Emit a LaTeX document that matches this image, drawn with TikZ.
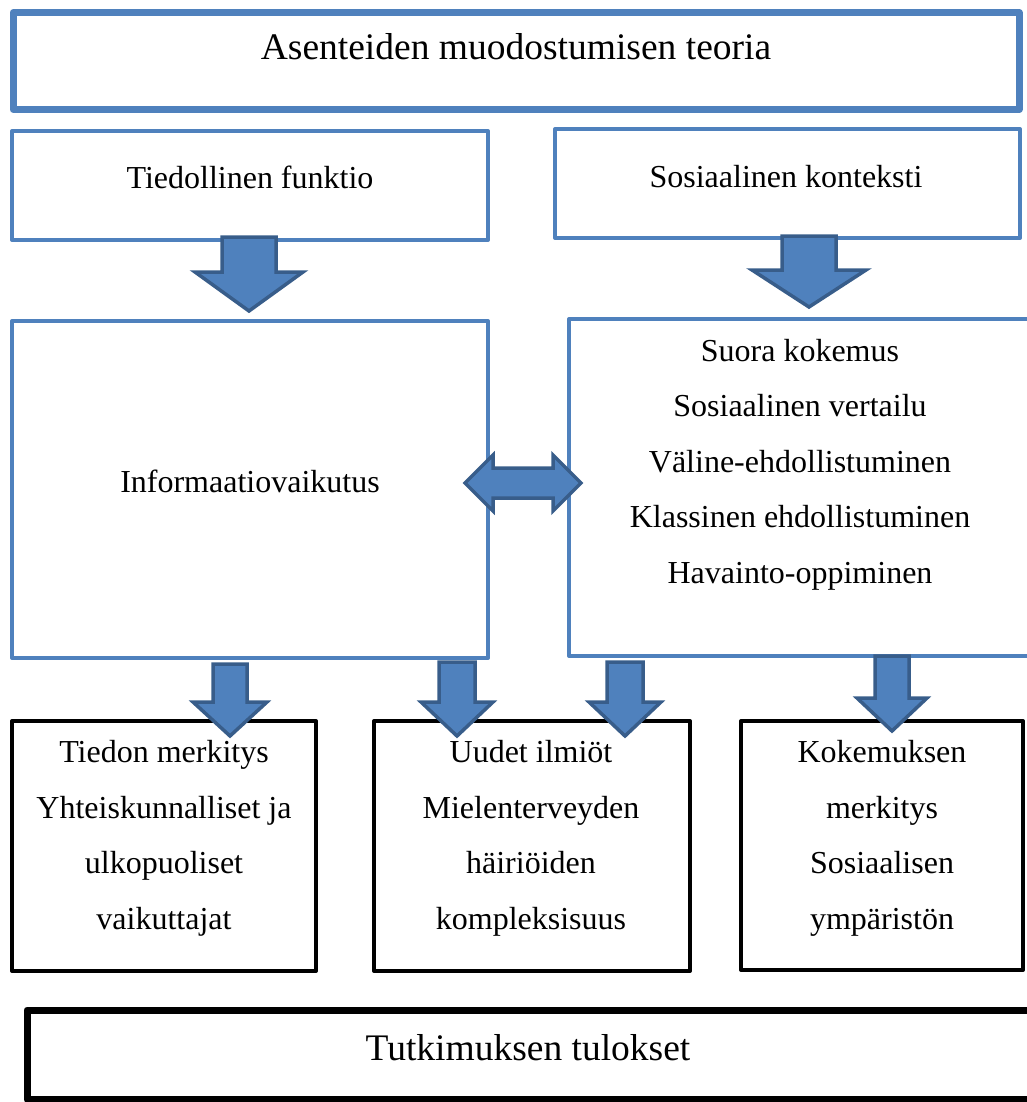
\documentclass[tikz,border=0pt]{standalone}
\usepackage{fontspec}
\setmainfont{Liberation Serif}
\definecolor{offsin}{RGB}{79,129,189}
\definecolor{offtsin}{RGB}{56,93,138}
% alas osoittava nuoli: x, ylä, kärjen alku, kärki, varren puolileveys, kärjen puolileveys
\newcommand{\nuolialas}[6]{\draw[nuoli] (#1-#5,#2) -- (#1+#5,#2) -- (#1+#5,#3) -- (#1+#6,#3) -- (#1,#4) -- (#1-#6,#3) -- (#1-#5,#3) -- cycle;}
\tikzset{
  sininen/.style={draw=offsin,line width=4,line join=round},
  musta/.style={draw=black,line width=4,line join=round},
  nuoli/.style={fill=offsin,draw=offtsin,line width=3.5,line join=miter},
  teksti/.style={anchor=base,inner sep=0pt,font=\fontsize{32}{55.5}\selectfont,align=center},
  isoteksti/.style={anchor=base,inner sep=0pt,font=\fontsize{37.5}{44}\selectfont}
}
\begin{document}
\begin{tikzpicture}[x=1pt,y=-1pt]
\useasboundingbox (0,0) rectangle (1026,1102);
% ---- ylärivi ----
\draw[sininen,line width=7] (13,12.5) rectangle (1019,109.5);
\node[isoteksti] (teoria) at (516,60) {Asenteiden muodostumisen teoria};
\draw[sininen] (12,131) rectangle (488,240);
\node[teksti] (tiedollinen) at (250,189) {Tiedollinen funktio};
\draw[sininen] (555,129) rectangle (1020,238);
\node[teksti] (sosiaalinen) at (786,188) {Sosiaalinen konteksti};
% ---- keskirivi (monirivisen tekstin base = viimeinen rivi) ----
\draw[sininen] (12,321) rectangle (488,658);
\node[teksti] (informaatio) at (250,492) {Informaatiovaikutus};
\draw[sininen] (569,319) rectangle (1040,656);
\node[teksti] (oppiminen) at (800,583) {Suora kokemus\\Sosiaalinen vertailu\\Väline-ehdollistuminen\\Klassinen ehdollistuminen\\Havainto-oppiminen};
% ---- alarivi ----
\draw[musta] (12,721) rectangle (316,971);
\node[teksti] (tieto) at (164,929) {Tiedon merkitys\\Yhteiskunnalliset ja\\ulkopuoliset\\vaikuttajat};
\draw[musta] (374,721) rectangle (690,971);
\node[teksti] (ilmiot) at (531,929) {Uudet ilmiöt\\Mielenterveyden\\häiriöiden\\kompleksisuus};
\draw[musta] (741,721) rectangle (1023,970);
\node[teksti] (kokemus) at (882,929) {Kokemuksen\\merkitys\\Sosiaalisen\\ympäristön};
\draw[musta,line width=7] (27,1010) rectangle (1040,1099);
\node[isoteksti] (tulokset) at (528,1060) {Tutkimuksen tulokset};
% ---- nuolet ----
\nuolialas{249}{237}{272}{311}{27}{54}
\nuolialas{809}{236}{270}{307}{27}{57}
\nuolialas{230}{664}{702}{736}{17}{37}
\nuolialas{457}{662}{702}{736}{18}{36}
\nuolialas{625}{662}{702}{736}{18}{36}
\nuolialas{892}{656}{698}{731}{17}{35}
\draw[nuoli] (465,483) -- (493,455) -- (493,468) -- (553,468) -- (553,455) -- (581,483)
  -- (553,511) -- (553,498) -- (493,498) -- (493,511) -- cycle;
\end{tikzpicture}
\end{document}
